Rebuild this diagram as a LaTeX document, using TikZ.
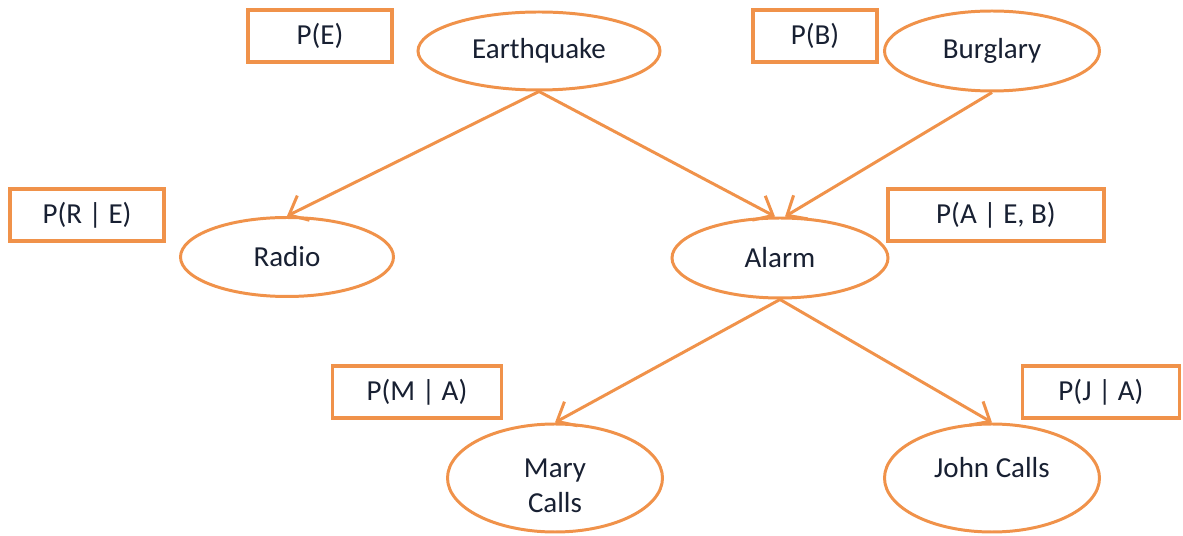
\documentclass[tikz,border=0pt]{standalone}
\usepackage{fontspec}
\setmainfont{Carlito}
\usetikzlibrary{arrows.meta,positioning,shapes.geometric}
\definecolor{NetOrange}{RGB}{240,146,74}
\definecolor{InkNavy}{RGB}{24,32,50}
\tikzset{
  varnode/.style={draw=NetOrange,ellipse,line width=1.7pt,fill=white,
    text=InkNavy,align=center,inner sep=0pt},
  cpt/.style={draw=NetOrange,rectangle,line width=1.9pt,fill=white,
    text=InkNavy,align=center,minimum height=1.04cm},
  arrow/.style={-{Straight Barb[length=3.2mm,width=5.5mm]},line width=1.7pt,NetOrange}
}

\begin{document}
\begin{tikzpicture}[font=\fontsize{16.5}{20}\selectfont]
  \useasboundingbox (0,0) rectangle (23.66,-10.72);
  % variables
  \node[varnode,minimum width=4.84cm,minimum height=1.56cm] (quake) at (10.78,-1.02) {Earthquake};
  \node[varnode,minimum width=4.3cm,minimum height=1.6cm] (burglary) at (19.84,-1.02) {Burglary};
  \node[varnode,minimum width=4.26cm,minimum height=1.58cm] (radio) at (5.74,-5.14) {Radio};
  \node[varnode,minimum width=4.32cm,minimum height=1.6cm] (alarm) at (15.6,-5.16) {Alarm};
  \node[varnode,minimum width=4.3cm,minimum height=2.16cm,text height=1.45cm,text depth=0.05cm] (mary) at (11.1,-9.56) {Mary\\Calls};
  \node[varnode,minimum width=4.3cm,minimum height=2.16cm,text height=0.4cm,text depth=0.4cm] (john) at (19.84,-9.56) {John Calls};
  % probability tables
  \node[cpt,minimum width=2.88cm] (pe) at (6.4,-0.72) {P(E)};
  \node[cpt,minimum width=2.48cm] (pb) at (16.3,-0.72) {P(B)};
  \node[cpt,minimum width=3.08cm] (pre) at (1.74,-4.3) {P(R | E)};
  \node[cpt,minimum width=4.32cm] (paeb) at (19.92,-4.3) {P(A | E, B)};
  \node[cpt,minimum width=3.38cm] (pma) at (8.34,-7.84) {P(M | A)};
  \node[cpt,minimum width=3.14cm] (pja) at (22.02,-7.84) {P(J | A)};
  % edges
  \draw[arrow] (quake.south) -- (radio.north);
  \draw[arrow] (quake.south) -- ([xshift=-1mm]alarm.north);
  \draw[arrow] (burglary.south) -- ([xshift=1mm]alarm.north);
  \draw[arrow] (alarm.south) -- (mary.north);
  \draw[arrow] (alarm.south) -- (john.north);
\end{tikzpicture}
\end{document}
